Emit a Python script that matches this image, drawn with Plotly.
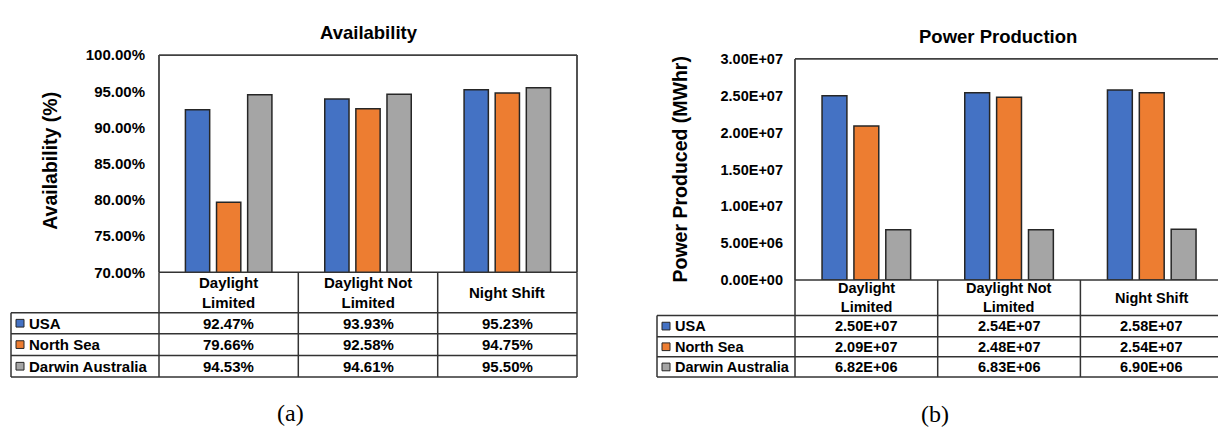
import plotly.graph_objects as go

# ---- data ----
categories = ["Daylight Limited", "Daylight Not Limited", "Night Shift"]
header_labels = ["Daylight<br>Limited", "Daylight Not<br>Limited", "Night Shift"]
series_names = ["USA", "North Sea", "Darwin Australia"]
series_colors = ["#4472C4", "#ED7D31", "#A5A5A5"]

availability_usa = [92.47, 93.93, 95.23]
availability_north_sea = [79.66, 92.58, 94.75]
availability_darwin = [94.53, 94.61, 95.50]

power_usa = [2.50e7, 2.54e7, 2.58e7]
power_north_sea = [2.09e7, 2.48e7, 2.54e7]
power_darwin = [6.82e6, 6.83e6, 6.90e6]

avail_ticks = [70, 75, 80, 85, 90, 95, 100]
avail_tick_labels = ["70.00%", "75.00%", "80.00%", "85.00%", "90.00%", "95.00%", "100.00%"]
power_ticks = [0, 5e6, 1e7, 1.5e7, 2e7, 2.5e7, 3e7]
power_tick_labels = ["0.00E+00", "5.00E+06", "1.00E+07", "1.50E+07", "2.00E+07", "2.50E+07", "3.00E+07"]

availability = [availability_usa, availability_north_sea, availability_darwin]
power = [power_usa, power_north_sea, power_darwin]

# ---- page geometry (pixels) ----
W, H = 1218, 435
FONT = "Liberation Sans"
LINE = "#333333"


def px(x):
    return x / W


def py(y):
    return 1 - y / H


fig = go.Figure()

for name, color, vals in zip(series_names, series_colors, availability):
    fig.add_trace(go.Bar(
        x=categories, y=vals, name=name, xaxis="x", yaxis="y",
        marker=dict(color=color, line=dict(color="#262626", width=1.5)),
        showlegend=False, hoverinfo="skip",
    ))
for name, color, vals in zip(series_names, series_colors, power):
    fig.add_trace(go.Bar(
        x=categories, y=vals, name=name, xaxis="x2", yaxis="y2",
        marker=dict(color=color, line=dict(color="#262626", width=1.5)),
        showlegend=False, hoverinfo="skip",
    ))

shapes = []
annotations = []


def hline(x0, x1, y, color=LINE, width=1.5):
    shapes.append(dict(type="line", xref="paper", yref="paper",
                       x0=px(x0), x1=px(x1), y0=py(y), y1=py(y),
                       line=dict(color=color, width=width), layer="above"))


def vline(x, y0, y1, color=LINE, width=1.5):
    shapes.append(dict(type="line", xref="paper", yref="paper",
                       x0=px(x), x1=px(x), y0=py(y0), y1=py(y1),
                       line=dict(color=color, width=width), layer="above"))


def text(x, y, s, size, xanchor="center", xref="paper", angle=0, family=FONT, weight="bold"):
    annotations.append(dict(
        x=x if xref != "paper" else px(x), y=py(y), xref=xref, yref="paper",
        text=s, showarrow=False, xanchor=xanchor, yanchor="middle",
        textangle=angle, font=dict(family=family, size=size, color="#000000", weight=weight),
    ))


def legend_box(x, y, color, size=8):
    shapes.append(dict(type="rect", xref="paper", yref="paper",
                       x0=px(x), x1=px(x + size), y0=py(y - size / 2), y1=py(y + size / 2),
                       fillcolor=color, line=dict(color="#262626", width=1), layer="above"))


def build_panel(plot_l, plot_r, plot_t, plot_b, col_edges, table_l, row_edges,
                axis_x, values, fmt, title, title_xy, ytitle, ytitle_xy,
                font_size, right_border, caption, caption_xy):
    # plot frame
    hline(plot_l, plot_r, plot_t, color="#404040", width=1.8)
    vline(plot_l, plot_t, plot_b, color="#404040", width=1.8)
    if right_border:
        vline(plot_r, plot_t, plot_b, color="#404040", width=1.8)
    # table: header row
    hline(plot_l, plot_r, plot_b)
    # table rows
    for y in row_edges:
        hline(table_l, plot_r, y)
    vline(table_l, row_edges[0], row_edges[-1])
    for x in col_edges:
        vline(x, plot_b, row_edges[-1])
    if right_border:
        vline(plot_r, plot_b, row_edges[-1])
    # header text
    head_y = (plot_b + row_edges[0]) / 2
    for i, lab in enumerate(header_labels):
        text(i, head_y, lab, font_size, xref=axis_x)
    # series rows
    for r, (name, color, vals) in enumerate(zip(series_names, series_colors, values)):
        yc = (row_edges[r] + row_edges[r + 1]) / 2
        legend_box(table_l + 5, yc, color)
        text(table_l + 16, yc, name, font_size, xanchor="left")
        for i, v in enumerate(vals):
            text(i, yc, fmt(v), font_size, xref=axis_x)
    text(title_xy[0], title_xy[1], title, 18.5)
    text(ytitle_xy[0], ytitle_xy[1], ytitle, 19.5, angle=-90)
    text(caption_xy[0], caption_xy[1], caption, 24, family="Liberation Serif", weight="normal")


# (a) availability
build_panel(159, 577, 48, 274, [159, 298.3, 437.7], 11, [316, 338, 360.5, 383],
            "x", availability, lambda v: f"{v:.2f}%", "Availability", (369, 24),
            "Availability (%)", (50, 158), 15, True, "(a)", (290, 420))
# (b) power production
build_panel(795, W, 52, 282, [795, 937.7, 1080.4], 657, [319, 341, 362, 383],
            "x2", power, lambda v: f"{v:.2E}", "Power Production", (998, 29),
            "Power Produced (MWhr)", (680, 167), 14.5, False, "(b)", (935, 421))

col_w_b = (1080.4 - 795) / 2

axis_common = dict(showgrid=False, zeroline=False, showline=False, fixedrange=True)
fig.update_layout(
    width=W, height=H, margin=dict(l=0, r=0, t=0, b=0),
    paper_bgcolor="white", plot_bgcolor="white",
    barmode="group", bargap=0.33, bargroupgap=0.22,
    xaxis=dict(domain=[px(159), px(577)], range=[-0.5, 2.5], showticklabels=False,
               ticks="", anchor="y", **axis_common),
    yaxis=dict(domain=[py(274), py(48)], range=[70, 100], tickvals=avail_ticks,
               ticktext=avail_tick_labels, ticks="", ticklabelstandoff=13, anchor="x",
               tickfont=dict(family=FONT, size=15, color="#000000", weight="bold"),
               **axis_common),
    xaxis2=dict(domain=[px(795), 1.0], range=[-0.5, -0.5 + (W - 795) / col_w_b],
                showticklabels=False, ticks="", anchor="y2", **axis_common),
    yaxis2=dict(domain=[py(282), py(52)], range=[0, 3e7], tickvals=power_ticks,
                ticktext=power_tick_labels, ticks="", ticklabelstandoff=11, anchor="x2",
                tickfont=dict(family=FONT, size=14.5, color="#000000", weight="bold"),
                **axis_common),
    shapes=shapes, annotations=annotations,
)

fig.write_html("out.html")
